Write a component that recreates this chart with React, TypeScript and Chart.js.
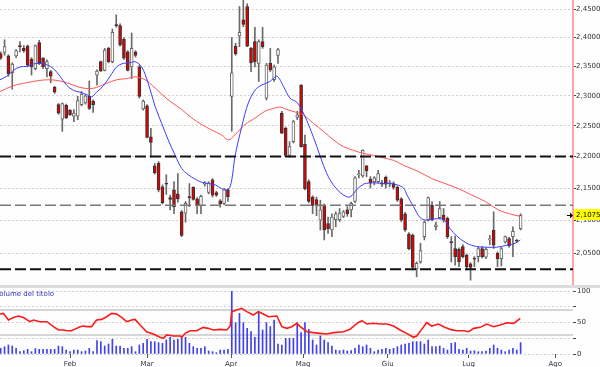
import React, { useEffect, useRef } from 'react';
import { Chart, registerables } from 'chart.js';

Chart.register(...registerables);

// ---------- data ----------
const opens = [
  2.372, 2.374, 2.368, 2.339, 2.368, 2.385, 2.381, 2.385, 2.362, 2.346,
  2.391, 2.364, 2.346, 2.341, 2.314, 2.285, 2.261, 2.284, 2.276, 2.266,
  2.266, 2.285, 2.288, 2.299, 2.291, 2.335, 2.358, 2.343, 2.381, 2.358,
  2.423, 2.421, 2.397, 2.375, 2.349, 2.375, 2.349, 2.278, 2.283, 2.232,
  2.185, 2.189, 2.152, 2.157, 2.135, 2.147, 2.141, 2.113, 2.111, 2.136,
  2.151, 2.133, 2.122, 2.156, 2.143, 2.163, 2.143, 2.130, 2.126, 2.147,
  2.299, 2.385, 2.403, 2.431, 2.455, 2.381, 2.393, 2.355, 2.393, 2.296,
  2.355, 2.327, 2.369, 2.271, 2.246, 2.202, 2.224, 2.264, 2.318, 2.220,
  2.160, 2.136, 2.132, 2.100, 2.123, 2.095, 2.085, 2.101, 2.101, 2.106,
  2.116, 2.116, 2.129, 2.171, 2.169, 2.185, 2.164, 2.160, 2.160, 2.158,
  2.167, 2.157, 2.157, 2.151, 2.133, 2.110, 2.079, 2.077, 2.027, 2.037,
  2.075, 2.101, 2.123, 2.090, 2.104, 2.108, 2.103, 2.067, 2.057, 2.056,
  2.060, 2.047, 2.034, 2.042, 2.045, 2.057, 2.044, 2.070, 2.085, 2.050,
  2.042, 2.067, 2.072, 2.075, 2.069, 2.087,
];
const highs = [
  2.375, 2.396, 2.370, 2.356, 2.379, 2.393, 2.386, 2.387, 2.365, 2.387,
  2.395, 2.365, 2.361, 2.343, 2.316, 2.287, 2.288, 2.286, 2.277, 2.277,
  2.299, 2.307, 2.302, 2.325, 2.293, 2.344, 2.359, 2.381, 2.383, 2.415,
  2.440, 2.424, 2.400, 2.377, 2.408, 2.377, 2.352, 2.293, 2.285, 2.246,
  2.189, 2.192, 2.155, 2.171, 2.139, 2.160, 2.173, 2.115, 2.129, 2.157,
  2.152, 2.135, 2.139, 2.160, 2.160, 2.165, 2.145, 2.132, 2.149, 2.149,
  2.400, 2.390, 2.455, 2.466, 2.460, 2.383, 2.418, 2.396, 2.418, 2.355,
  2.381, 2.352, 2.381, 2.274, 2.248, 2.224, 2.259, 2.274, 2.319, 2.235,
  2.163, 2.138, 2.136, 2.131, 2.125, 2.105, 2.110, 2.113, 2.118, 2.115,
  2.121, 2.128, 2.168, 2.178, 2.211, 2.186, 2.168, 2.168, 2.178, 2.162,
  2.169, 2.162, 2.160, 2.153, 2.135, 2.112, 2.081, 2.079, 2.037, 2.065,
  2.099, 2.136, 2.129, 2.097, 2.129, 2.118, 2.105, 2.075, 2.076, 2.058,
  2.063, 2.049, 2.036, 2.045, 2.059, 2.060, 2.058, 2.077, 2.113, 2.052,
  2.059, 2.076, 2.074, 2.090, 2.071, 2.110,
];
const lows = [
  2.362, 2.369, 2.333, 2.311, 2.365, 2.375, 2.374, 2.349, 2.335, 2.344,
  2.353, 2.346, 2.332, 2.322, 2.304, 2.269, 2.241, 2.262, 2.267, 2.257,
  2.260, 2.283, 2.286, 2.277, 2.272, 2.318, 2.341, 2.342, 2.356, 2.356,
  2.418, 2.385, 2.362, 2.342, 2.329, 2.366, 2.296, 2.276, 2.230, 2.199,
  2.172, 2.144, 2.125, 2.140, 2.116, 2.110, 2.128, 2.075, 2.097, 2.121,
  2.131, 2.110, 2.110, 2.153, 2.141, 2.136, 2.137, 2.120, 2.124, 2.129,
  2.241, 2.369, 2.384, 2.419, 2.384, 2.341, 2.349, 2.324, 2.381, 2.293,
  2.341, 2.324, 2.355, 2.237, 2.200, 2.199, 2.222, 2.260, 2.215, 2.147,
  2.127, 2.110, 2.107, 2.085, 2.070, 2.080, 2.075, 2.090, 2.098, 2.104,
  2.106, 2.105, 2.127, 2.166, 2.167, 2.168, 2.150, 2.155, 2.158, 2.152,
  2.150, 2.152, 2.148, 2.129, 2.098, 2.083, 2.055, 2.025, 2.015, 2.035,
  2.070, 2.099, 2.099, 2.085, 2.102, 2.097, 2.072, 2.037, 2.032, 2.030,
  2.043, 2.025, 2.010, 2.030, 2.037, 2.043, 2.042, 2.063, 2.057, 2.030,
  2.031, 2.065, 2.059, 2.045, 2.066, 2.085,
];
const closes = [
  2.364, 2.384, 2.337, 2.354, 2.377, 2.384, 2.377, 2.352, 2.349, 2.386,
  2.356, 2.349, 2.358, 2.333, 2.306, 2.271, 2.287, 2.263, 2.268, 2.271,
  2.292, 2.303, 2.300, 2.279, 2.285, 2.342, 2.342, 2.378, 2.358, 2.409,
  2.421, 2.387, 2.364, 2.343, 2.381, 2.369, 2.299, 2.291, 2.231, 2.223,
  2.174, 2.147, 2.127, 2.156, 2.132, 2.121, 2.133, 2.077, 2.126, 2.135,
  2.132, 2.123, 2.137, 2.158, 2.158, 2.139, 2.139, 2.125, 2.147, 2.136,
  2.339, 2.372, 2.409, 2.423, 2.385, 2.356, 2.358, 2.393, 2.384, 2.352,
  2.344, 2.349, 2.379, 2.238, 2.202, 2.216, 2.257, 2.268, 2.216, 2.149,
  2.129, 2.123, 2.122, 2.116, 2.085, 2.087, 2.105, 2.110, 2.111, 2.113,
  2.110, 2.126, 2.166, 2.172, 2.210, 2.177, 2.158, 2.166, 2.173, 2.156,
  2.156, 2.158, 2.151, 2.131, 2.100, 2.085, 2.057, 2.029, 2.035, 2.054,
  2.097, 2.135, 2.101, 2.093, 2.118, 2.100, 2.075, 2.066, 2.045, 2.037,
  2.045, 2.030, 2.029, 2.041, 2.057, 2.045, 2.056, 2.071, 2.062, 2.042,
  2.057, 2.075, 2.061, 2.083, 2.068, 2.1075,
];
const volumes = [
  9.0, 11.6, 14.3, 12.7, 9.0, 3.7, 5.3, 7.4, 3.7, 8.5,
  7.4, 7.4, 7.4, 7.4, 7.4, 12.7, 11.6, 6.3, 3.7, 6.3,
  6.3, 3.7, 4.8, 9.0, 3.7, 21.2, 19.6, 12.7, 15.9, 23.3,
  12.7, 12.7, 9.0, 9.0, 11.6, 3.7, 14.3, 16.9, 23.3, 19.6,
  19.6, 18.0, 16.9, 22.2, 26.5, 22.2, 23.3, 25.9, 26.5, 16.9,
  11.6, 9.0, 9.0, 11.6, 4.8, 3.7, 2.1, 6.3, 6.3, 7.4,
  100, 49.7, 64.5, 49.7, 40.7, 35.4, 26.5, 67.2, 38.1, 49.7,
  43.4, 54.0, 15.9, 14.3, 24.9, 24.9, 24.9, 49.7, 33.9, 49.7,
  39.1, 22.2, 14.3, 28.6, 22.2, 18.0, 12.7, 6.3, 5.3, 6.3,
  4.8, 5.3, 9.0, 14.3, 11.6, 14.3, 9.0, 3.7, 6.3, 7.4,
  9.0, 7.4, 9.0, 11.6, 14.3, 15.9, 16.9, 19.6, 19.6, 19.6,
  15.9, 22.2, 11.6, 11.6, 12.7, 9.0, 6.3, 16.9, 18.0, 7.4,
  6.3, 9.0, 4.8, 5.3, 3.7, 3.7, 4.8, 9.0, 14.3, 9.0,
  6.3, 3.7, 6.3, 9.0, 6.3, 18.0,
];
// moving averages: [day index, price]
const maShort = [
  [-0.2, 2.327], [1.6, 2.333], [3.3, 2.343], [5, 2.349], [6.8, 2.35], [8.5, 2.354], [10.2, 2.355],
  [11.9, 2.353], [13.7, 2.346], [15.4, 2.333], [17.1, 2.318], [18.9, 2.309], [20.6, 2.306],
  [22.3, 2.302], [23.6, 2.298], [24.9, 2.306], [26.7, 2.317], [28.4, 2.333], [30.1, 2.349],
  [31.8, 2.355], [33.6, 2.356], [34.9, 2.358], [36.6, 2.349], [38.3, 2.321], [40.1, 2.282],
  [41.8, 2.254], [43.5, 2.227], [45.3, 2.202], [47, 2.181], [48.7, 2.171], [50.5, 2.164],
  [52.2, 2.159], [53.9, 2.157], [55.7, 2.155], [57.4, 2.149], [59.1, 2.148], [60, 2.163],
  [60.8, 2.199], [62.6, 2.249], [64.3, 2.288], [66.1, 2.31], [67.8, 2.318], [69.9, 2.324],
  [71.7, 2.333], [73.4, 2.316], [75.1, 2.296], [76.9, 2.289], [78.6, 2.271], [80.3, 2.246],
  [82.1, 2.216], [83.8, 2.186], [85.5, 2.163], [87.3, 2.148], [89, 2.139], [90.7, 2.136],
  [92.5, 2.148], [94.2, 2.156], [95.9, 2.158], [97.7, 2.158], [99.4, 2.157], [101.1, 2.157],
  [102.9, 2.155], [104.6, 2.15], [105.5, 2.139], [107.2, 2.121], [108.9, 2.104], [110.6, 2.1],
  [112.4, 2.102], [115, 2.101], [116.7, 2.087], [118.4, 2.076], [121, 2.065], [123.6, 2.06],
  [126.2, 2.059], [128.8, 2.059], [131.4, 2.062], [133.6, 2.065], [134.9, 2.07],
];
const maLong = [
  [-0.2, 2.307], [3.3, 2.317], [6.8, 2.322], [10.2, 2.326], [12.8, 2.327], [15.4, 2.325],
  [18, 2.32], [20.6, 2.314], [23.2, 2.312], [24.9, 2.314], [27.5, 2.321], [30.1, 2.327],
  [32.7, 2.329], [34.9, 2.332], [37.5, 2.327], [40.1, 2.313], [43.5, 2.293], [47, 2.277],
  [49.6, 2.263], [52.2, 2.252], [54.8, 2.243], [57.4, 2.235], [59.1, 2.227], [60.8, 2.235],
  [63.4, 2.252], [66.1, 2.263], [68.6, 2.274], [69.9, 2.277], [72.5, 2.281], [74.3, 2.277],
  [76.9, 2.272], [78.6, 2.268], [81.2, 2.254], [83.8, 2.241], [86.4, 2.227], [89, 2.216],
  [91.6, 2.21], [94.2, 2.205], [96.8, 2.202], [99.4, 2.198], [102, 2.194], [104.6, 2.186],
  [108.5, 2.176], [111.9, 2.165], [115.4, 2.157], [118.9, 2.149], [122.3, 2.139],
  [125.8, 2.129], [129.2, 2.116], [132.7, 2.109], [134.9, 2.106],
];
// oscillator in the lower panel: [day index, value 0-100]
const oscillator = [
  [-0.2, 63.5], [0.7, 64.5], [2, 54], [3.3, 58], [4.6, 60.3], [5.9, 58], [7.6, 51.3], [8.5, 54],
  [10.2, 51.3], [12, 51.3], [13.7, 43.4], [15, 38.1], [16.3, 38.1], [17.1, 37], [18.4, 37],
  [19.7, 40.7], [20.6, 43.4], [21.5, 44.4], [22.3, 43.4], [23.6, 43.4], [24.9, 54], [26.2, 55],
  [27.5, 59.2], [28.8, 64.5], [30.1, 63.5], [31.4, 58], [32.7, 51.3], [34, 54], [34.9, 55],
  [36.2, 46], [37.9, 35.4], [39.6, 31.7], [41.4, 26.5], [42.2, 24.9], [43.1, 30.2], [44.8, 28.6],
  [46.6, 28.6], [47, 26.5], [47.9, 32.8], [49.2, 37], [50.9, 37], [52.6, 42.3], [53.9, 40.7],
  [55.2, 38.1], [57, 39.1], [58.7, 38.1], [59.6, 44.4], [60, 67.2], [61.3, 69.8], [62.6, 72.5],
  [63.9, 67.2], [65.6, 61.9], [66.9, 67.2], [68.2, 63.5], [69.5, 59.2], [71.7, 60.3], [73, 43.4],
  [74.3, 40.7], [75.6, 43.4], [76.9, 48.7], [77.7, 44], [79.5, 35.4], [81.2, 33.9], [82.9, 32.8],
  [84.7, 31.7], [86.4, 33.9], [89, 35.4], [90.7, 39.1], [92.5, 48.7], [93.8, 52.9], [95.1, 47.6],
  [96.8, 48.7], [98.5, 47.6], [100.3, 47.6], [102, 44.4], [103.7, 38.1], [105.4, 32.8],
  [107.2, 26.5], [108, 28.6], [109.3, 39.1], [110.6, 49.7], [111.9, 44.4], [113.7, 47.6],
  [115, 43.4], [116.7, 39.1], [118.4, 37], [120.2, 37], [121.5, 35.4], [122.8, 40.7],
  [124.5, 42.3], [126.2, 47.6], [128, 43.4], [129.7, 46], [131.4, 49.7], [133.2, 48.7],
  [134.9, 56.6],
];
const priceTicks = [2.05, 2.1, 2.15, 2.2, 2.25, 2.3, 2.35, 2.4, 2.45];
const supportLevels = [2.2, 2.026];
const midLevels = [2.123];
const monthTicks = [18, 38, 59.8, 78.5, 100.5, 121.5, 144];
const monthNames = ['Feb', 'Mar', 'Apr', 'Mag', 'Giu', 'Lug', 'Ago'];
const volTicks = [0, 25, 50, 75, 100];
const volLabelTicks = [0, 50, 100];
const volBands = [30, 70];
const volumeTitle = 'Volume del titolo';

const X_MIN = -0.18;
const X_MAX = 148.6;
const PRICE_MIN = 2.0;
const PRICE_MAX = 2.4667;
const FONT = 'DejaVu Sans';
const BG = '#fdfefd';
const GRID = '#d2d2d2';

const fmt = (v: number) => v.toFixed(4).replace('.', ',');

const hline = (lvl: number, color: string, width: number, dash: number[], order: number) => ({
  type: 'line' as const,
  data: [{ x: X_MIN, y: lvl }, { x: X_MAX, y: lvl }],
  borderColor: color,
  borderWidth: width,
  borderDash: dash,
  pointRadius: 0,
  order,
});

const lastPricePlugin = {
  id: 'lastPrice',
  afterDraw(chart: any) {
    const { ctx, chartArea, scales } = chart;
    const v = closes[closes.length - 1];
    const y = Math.round(scales.y.getPixelForValue(v));
    const x = chartArea.right;
    ctx.save();
    ctx.fillStyle = '#ffff00';
    ctx.fillRect(x + 1, y - 6, 27, 11);
    ctx.fillStyle = '#000';
    ctx.font = `7px "${FONT}"`;
    ctx.textBaseline = 'middle';
    ctx.textAlign = 'left';
    ctx.fillText(fmt(v), x + 3, y);
    ctx.strokeStyle = '#000';
    ctx.lineWidth = 1;
    ctx.beginPath();
    ctx.moveTo(x - 6, y + 0.5);
    ctx.lineTo(x - 2, y + 0.5);
    ctx.stroke();
    ctx.beginPath();
    ctx.moveTo(x - 3, y - 2.5);
    ctx.lineTo(x, y + 0.5);
    ctx.lineTo(x - 3, y + 3.5);
    ctx.closePath();
    ctx.fill();
    ctx.restore();
  },
};

const titlePlugin = {
  id: 'volTitle',
  afterDraw(chart: any) {
    const { ctx, chartArea } = chart;
    ctx.save();
    ctx.fillStyle = '#3434c8';
    ctx.font = `7px "${FONT}"`;
    ctx.textBaseline = 'middle';
    ctx.textAlign = 'left';
    ctx.fillText(volumeTitle, chartArea.left - 5, chartArea.top + 3.5);
    ctx.restore();
  },
};

function mainConfig(): any {
  const idx = closes.map((_, i) => i);
  const up = closes.map((c, i) => c >= opens[i]);
  return {
    type: 'line',
    data: {
      datasets: [
        ...supportLevels.map((l) => hline(l, '#111111', 2, [11, 4], 1)),
        ...midLevels.map((l) => hline(l, '#777777', 1.5, [11, 4], 1)),
        {
          type: 'line',
          data: maShort.map(([x, y]) => ({ x, y })),
          borderColor: '#3d3dff',
          borderWidth: 1,
          pointRadius: 0,
          tension: 0.35,
          order: 2,
        },
        {
          type: 'line',
          data: maLong.map(([x, y]) => ({ x, y })),
          borderColor: '#ff5555',
          borderWidth: 1,
          pointRadius: 0,
          tension: 0.35,
          order: 3,
        },
        {
          type: 'bar',
          data: idx.map((i) => ({ x: i, y: [opens[i], closes[i]] })),
          backgroundColor: up.map((u) => (u ? '#ffffff' : '#e00000')),
          borderColor: up.map((u) => (u ? '#666666' : '#333333')),
          borderWidth: 1,
          borderSkipped: false,
          barThickness: 3,
          minBarLength: 1,
          grouped: false,
          order: 4,
        },
        {
          type: 'bar',
          data: idx.map((i) => ({ x: i, y: [lows[i], highs[i]] })),
          backgroundColor: '#6a6a6a',
          borderWidth: 0,
          barThickness: 1,
          grouped: false,
          order: 5,
        },
      ],
    },
    options: {
      responsive: false,
      animation: false,
      devicePixelRatio: 1,
      events: [],
      layout: { padding: { top: 0, bottom: 1, left: 0, right: 0 } },
      plugins: { legend: { display: false }, tooltip: { enabled: false } },
      scales: {
        x: { type: 'linear', min: X_MIN, max: X_MAX, display: false, offset: false },
        y: {
          type: 'logarithmic',
          position: 'right',
          min: PRICE_MIN,
          max: PRICE_MAX,
          afterBuildTicks: (s: any) => {
            s.ticks = priceTicks.map((v) => ({ value: v }));
          },
          afterFit: (s: any) => {
            s.width = 27;
            s.paddingTop = 0;
            s.paddingBottom = 0;
          },
          ticks: {
            callback: (v: any) => fmt(Number(v)),
            font: { family: FONT, size: 7 },
            color: '#333333',
            padding: 0,
            autoSkip: false,
          },
          grid: { color: GRID, lineWidth: 1, drawTicks: true, tickLength: 3, tickColor: '#444444' },
          border: { display: true, color: '#ffa3a3', width: 2, dash: [2, 2] },
        },
      },
    },
    plugins: [lastPricePlugin],
  };
}

function volumeConfig(): any {
  const idx = volumes.map((_, i) => i);
  return {
    type: 'line',
    data: {
      datasets: [
        {
          type: 'line',
          data: oscillator.map(([x, y]) => ({ x, y })),
          borderColor: '#ff1a1a',
          borderWidth: 1.6,
          pointRadius: 0,
          tension: 0,
          order: 1,
        },
        {
          type: 'bar',
          data: idx.map((i) => ({ x: i, y: volumes[i] })),
          backgroundColor: '#4040ee',
          borderWidth: 0,
          barThickness: 1,
          grouped: false,
          order: 3,
        },
        ...volBands.map((b) => hline(b, '#d6d6d6', 2, [], 4)),
      ],
    },
    options: {
      responsive: false,
      animation: false,
      devicePixelRatio: 1,
      events: [],
      layout: { padding: { top: 11, bottom: 0, left: 0, right: 0 } },
      plugins: { legend: { display: false }, tooltip: { enabled: false } },
      scales: {
        x: {
          type: 'linear',
          min: X_MIN,
          max: X_MAX,
          offset: false,
          position: 'bottom',
          afterBuildTicks: (s: any) => {
            s.ticks = monthTicks.map((v) => ({ value: v }));
          },
          afterFit: (s: any) => {
            s.height = 13;
            s.paddingLeft = 0;
            s.paddingRight = 0;
          },
          ticks: {
            callback: (_v: any, i: number) => monthNames[i],
            font: { family: FONT, size: 7 },
            color: '#333344',
            padding: 2,
            autoSkip: false,
            maxRotation: 0,
            minRotation: 0,
          },
          grid: { display: true, drawOnChartArea: false, drawTicks: true, tickLength: 4, tickColor: '#555555', offset: false },
          border: { display: false },
        },
        y: {
          type: 'linear',
          position: 'right',
          min: 0,
          max: 100,
          afterBuildTicks: (s: any) => {
            s.ticks = volTicks.map((v) => ({ value: v }));
          },
          afterFit: (s: any) => {
            s.width = 27;
            s.paddingTop = 0;
            s.paddingBottom = 0;
          },
          ticks: {
            callback: (v: any) => (volLabelTicks.includes(Number(v)) ? String(v) : ''),
            font: { family: FONT, size: 7 },
            color: '#333333',
            padding: 1,
            autoSkip: false,
          },
          grid: { color: GRID, lineWidth: 1, drawTicks: true, tickLength: 3, tickColor: '#555555' },
          border: { display: false, dash: [2, 2] },
        },
      },
    },
    plugins: [titlePlugin],
  };
}

export default function App() {
  const mainRef = useRef<HTMLCanvasElement>(null);
  const volRef = useRef<HTMLCanvasElement>(null);

  useEffect(() => {
    const c1 = new Chart(mainRef.current as HTMLCanvasElement, mainConfig());
    const c2 = new Chart(volRef.current as HTMLCanvasElement, volumeConfig());
    return () => {
      c1.destroy();
      c2.destroy();
    };
  }, []);

  return (
    <div
      style={{
        position: 'absolute',
        left: 0,
        top: 0,
        width: 600,
        height: 367,
        background: BG,
        overflow: 'hidden',
      }}
    >
      <canvas
        ref={mainRef}
        width={600}
        height={288}
        style={{ position: 'absolute', left: 0, top: 0, width: 600, height: 288 }}
      />
      <canvas
        ref={volRef}
        width={600}
        height={87}
        style={{ position: 'absolute', left: 0, top: 280, width: 600, height: 87 }}
      />
      <div style={{ position: 'absolute', left: 0, top: 285, width: 600, height: 3, background: '#dcdcdc' }} />
    </div>
  );
}
